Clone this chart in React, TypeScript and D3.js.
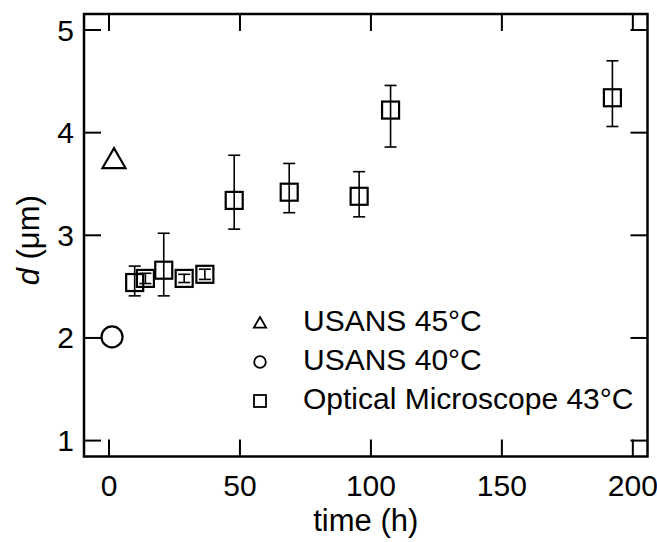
import React, { useRef, useEffect } from 'react';
import * as d3 from 'd3';

// optical microscope 43°C
const OM_TIME = [9.8, 13.9, 20.9, 28.7, 36.6, 47.8, 68.8, 95.5, 107.5, 192.2];
const OM_D = [2.54, 2.58, 2.66, 2.58, 2.62, 3.34, 3.42, 3.38, 4.22, 4.34];
const OM_LO = [2.41, 2.53, 2.41, 2.54, 2.57, 3.06, 3.22, 3.18, 3.86, 4.06];
const OM_HI = [2.70, 2.63, 3.02, 2.62, 2.67, 3.78, 3.70, 3.62, 4.46, 4.70];

// USANS
const USANS45_TIME = [1.9];
const USANS45_D = [3.72];
const USANS40_TIME = [1.15];
const USANS40_D = [2.01];

const X_TICKS = [0, 50, 100, 150, 200];
const Y_TICKS = [1, 2, 3, 4, 5];
const LEGEND = ['USANS 45°C', 'USANS 40°C', 'Optical Microscope 43°C'];

const width = 657;
const height = 542;
const left = 84;
const right = 647.5;
const top = 14;
const bottom = 456.5;
const font = '"Liberation Sans", Arial, sans-serif';
const fontSize = 30;
const titleSize = 31;
const tickLen = 17;

const x = d3.scaleLinear().domain([-9.55, 205.6]).range([left, right]);
const y = d3.scaleLinear().domain([0.845, 5.156]).range([bottom, top]);

function drawChart(node: SVGGElement) {
  const g = d3.select(node);
  g.selectAll('*').remove();

  // frame
  g.append('rect')
    .attr('x', left).attr('y', top)
    .attr('width', right - left).attr('height', bottom - top)
    .attr('fill', 'none').attr('stroke', '#000').attr('stroke-width', 2.5);

  // ticks on all four sides, inward
  g.append('g').selectAll('line').data(X_TICKS).join('line')
    .attr('x1', d => x(d)).attr('x2', d => x(d))
    .attr('y1', bottom).attr('y2', bottom - tickLen)
    .attr('stroke', '#000').attr('stroke-width', 2);
  g.append('g').selectAll('line').data(X_TICKS).join('line')
    .attr('x1', d => x(d)).attr('x2', d => x(d))
    .attr('y1', top).attr('y2', top + tickLen)
    .attr('stroke', '#000').attr('stroke-width', 2);
  g.append('g').selectAll('line').data(Y_TICKS).join('line')
    .attr('x1', left).attr('x2', left + tickLen)
    .attr('y1', d => y(d)).attr('y2', d => y(d))
    .attr('stroke', '#000').attr('stroke-width', 2);
  g.append('g').selectAll('line').data(Y_TICKS).join('line')
    .attr('x1', right).attr('x2', right - tickLen)
    .attr('y1', d => y(d)).attr('y2', d => y(d))
    .attr('stroke', '#000').attr('stroke-width', 2);

  // tick labels
  g.append('g').selectAll('text').data(X_TICKS).join('text')
    .attr('x', d => x(d)).attr('y', 496)
    .attr('text-anchor', 'middle')
    .attr('font-family', font).attr('font-size', fontSize)
    .text(d => d);
  g.append('g').selectAll('text').data(Y_TICKS).join('text')
    .attr('x', 74).attr('y', d => y(d) + 10.5)
    .attr('text-anchor', 'end')
    .attr('font-family', font).attr('font-size', fontSize)
    .text(d => d);

  // axis titles
  g.append('text')
    .attr('x', (left + right) / 2).attr('y', 531)
    .attr('text-anchor', 'middle')
    .attr('font-family', font).attr('font-size', titleSize)
    .text('time (h)');

  const yl = g.append('text')
    .attr('transform', `translate(39,${(top + bottom) / 2 + 5}) rotate(-90)`)
    .attr('text-anchor', 'middle')
    .attr('font-family', font).attr('font-size', titleSize);
  yl.append('tspan').attr('font-style', 'italic').text('d');
  yl.append('tspan').text(' (μm)');

  // error bars
  const eb = g.append('g').attr('stroke', '#000').attr('stroke-width', 1.6);
  OM_TIME.forEach((t, i) => {
    const cx = x(t);
    eb.append('line').attr('x1', cx).attr('x2', cx).attr('y1', y(OM_LO[i])).attr('y2', y(OM_HI[i]));
    eb.append('line').attr('x1', cx - 6).attr('x2', cx + 6).attr('y1', y(OM_LO[i])).attr('y2', y(OM_LO[i]));
    eb.append('line').attr('x1', cx - 6).attr('x2', cx + 6).attr('y1', y(OM_HI[i])).attr('y2', y(OM_HI[i]));
  });

  // squares
  const sq = 17;
  g.append('g').selectAll('rect').data(OM_TIME).join('rect')
    .attr('x', d => x(d) - sq / 2)
    .attr('y', (d, i) => y(OM_D[i]) - sq / 2)
    .attr('width', sq).attr('height', sq)
    .attr('fill', 'none').attr('stroke', '#000').attr('stroke-width', 2.2);

  // circle
  g.append('g').selectAll('circle').data(USANS40_TIME).join('circle')
    .attr('cx', d => x(d)).attr('cy', (d, i) => y(USANS40_D[i]))
    .attr('r', 10.5)
    .attr('fill', '#fff').attr('stroke', '#000').attr('stroke-width', 2.2);

  // triangle
  const tri = d3.symbol().type(d3.symbolTriangle).size(230);
  g.append('g').selectAll('path').data(USANS45_TIME).join('path')
    .attr('transform', (d, i) => `translate(${x(d)},${y(USANS45_D[i])})`)
    .attr('d', tri)
    .attr('fill', 'none').attr('stroke', '#000').attr('stroke-width', 2.2);

  // legend
  const lg = g.append('g');
  const ly = [323, 362, 401];
  lg.append('path')
    .attr('transform', `translate(260,${ly[0] + 1})`)
    .attr('d', d3.symbol().type(d3.symbolTriangle).size(65)())
    .attr('fill', 'none').attr('stroke', '#000').attr('stroke-width', 1.8);
  lg.append('circle').attr('cx', 260).attr('cy', ly[1]).attr('r', 5.8)
    .attr('fill', 'none').attr('stroke', '#000').attr('stroke-width', 1.8);
  lg.append('rect').attr('x', 254).attr('y', ly[2] - 6).attr('width', 12).attr('height', 12)
    .attr('fill', 'none').attr('stroke', '#000').attr('stroke-width', 1.8);
  lg.selectAll('text').data(LEGEND).join('text')
    .attr('x', 303).attr('y', (d, i) => ly[i] + 8)
    .attr('font-family', font).attr('font-size', fontSize)
    .text(d => d);
}

const App = () => {
  const ref = useRef<SVGGElement>(null);

  useEffect(() => {
    if (ref.current) drawChart(ref.current);
  }, []);

  return (
    <svg
      width={width}
      height={height}
      viewBox={`0 0 ${width} ${height}`}
      style={{ position: 'absolute', left: 0, top: 0, background: '#fff' }}
    >
      <g ref={ref}></g>
    </svg>
  );
};

export default App;
